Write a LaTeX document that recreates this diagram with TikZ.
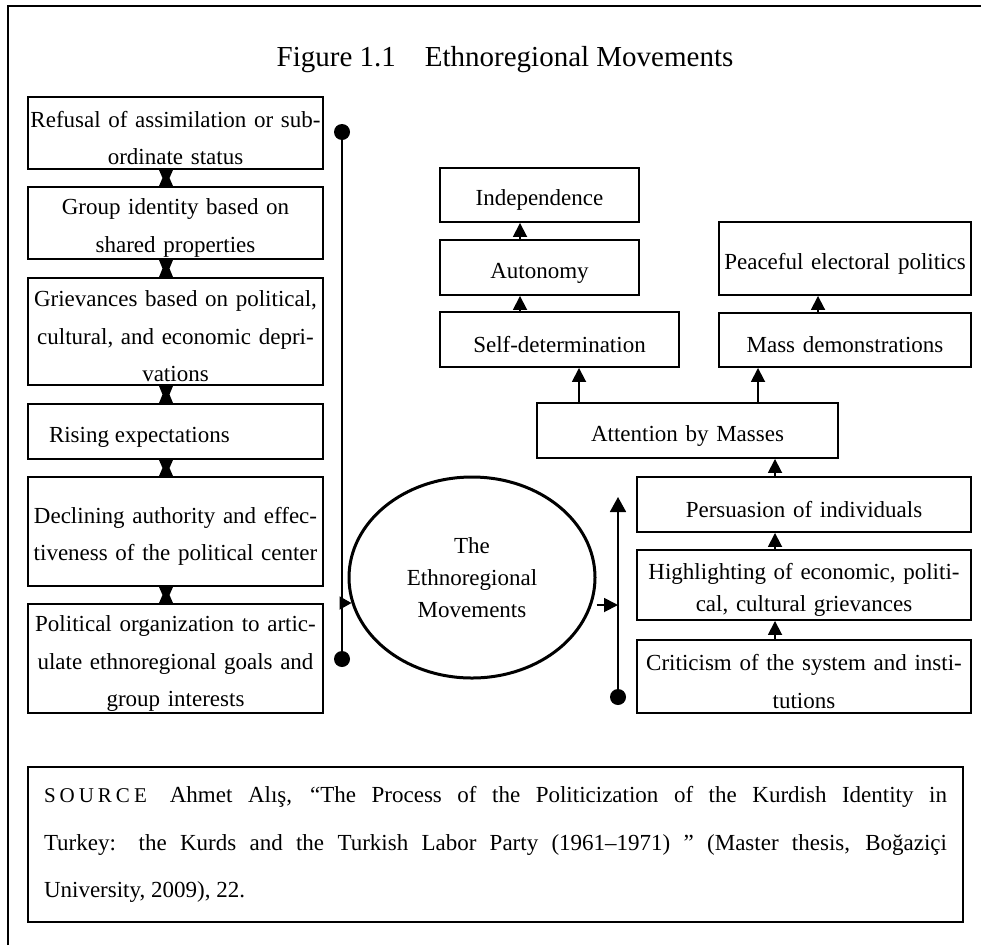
\documentclass[tikz,border=0pt]{standalone}
\usepackage{fontspec}
\setmainfont{Liberation Serif}
\usetikzlibrary{arrows.meta,calc,shapes.geometric}
\def\boxfont{\fontsize{23pt}{37.5pt}\selectfont}
\def\lift{\rule{0pt}{26pt}}
\def\hourglass(#1)(#2){\fill ([xshift=-16.5pt]#1.south) -- ([xshift=-2.5pt]#1.south) -- ($(#1.south)!0.5!(#2.north)+(-6,0)$) -- ([xshift=-2.5pt]#2.north) -- ([xshift=-16.5pt]#2.north) -- ($(#1.south)!0.5!(#2.north)+(-13,0)$) -- cycle;}
\tikzset{
	stage/.style={draw, line width=1.9pt, inner sep=0pt, minimum width=#1, text width=#1, align=center, font=\boxfont, execute at begin node=\lift},
	flow/.style={line width=1.8pt, -{Triangle[length=14pt,width=14pt]}},
	dot/.style={circle, fill=black, inner sep=0pt, minimum size=16pt},
}

\begin{document}
\begin{tikzpicture}[x=1pt, y=-1pt]
		%%%%% START %%%%%
		\useasboundingbox (0, 0) rectangle (981, 945);
		\draw[line width=1.8pt] (8, 945) -- (8, 6) -- (981, 6);
		
		\node[font=\fontsize{29pt}{29pt}\selectfont] (title) at (505, 60) {Figure 1.1\quad Ethnoregional Movements};
		
		% left column
		\node[stage=295pt, minimum height=72pt] (refusal) at (175.5, 133) {Refusal of assimilation or sub-\\ordinate status};
		\node[stage=295pt, minimum height=72pt] (identity) at (175.5, 223) {Group identity based on\\shared properties};
		\node[stage=295pt, minimum height=107pt] (grievance) at (175.5, 331.5) {Grievances based on political,\\cultural, and economic depri-\\vations};
		\node[stage=295pt, minimum height=55pt, text width=253pt, align=flush left] (rising) at (175.5, 431.5) {Rising expectations};
		\node[stage=295pt, minimum height=109pt] (decline) at (175.5, 531.5) {Declining authority and effec-\\tiveness of the political center};
		\node[stage=295pt, minimum height=109pt] (organize) at (175.5, 658.5) {Political organization to artic-\\ulate ethnoregional goals and\\group interests};
		
		\hourglass(refusal)(identity)
		\hourglass(identity)(grievance)
		\hourglass(grievance)(rising)
		\hourglass(rising)(decline)
		\hourglass(decline)(organize)
		
		\node[dot] (ltop) at (342, 132) {};
		\node[dot] (lbot) at (342, 659) {};
		\draw[line width=1.8pt] (ltop) -- (lbot);
		
		% centre
		\node[draw, ellipse, line width=3pt, inner sep=0pt, minimum width=246pt, minimum height=201pt, align=center, font=\fontsize{23pt}{32pt}\selectfont] (move) at (472, 577.5) {The\\Ethnoregional\\Movements};
		
		\coordinate (barin) at (342, 603);
		\draw[line width=1.8pt, -{Triangle[length=12pt,width=13pt]}] (barin) -- (barin -| move.192);
		
		\coordinate (barout) at (618, 605);
		\draw[flow] (move.east |- barout) -- (barout);
		
		\node[dot] (rdot) at (618, 697) {};
		\coordinate (rtop) at (618, 497);
		\draw[line width=1.8pt, -{Triangle[length=15pt,width=16pt]}] (rdot) -- (rtop);
		
		% right column
		\node[stage=199pt, minimum height=54pt] (indep) at (539.5, 195) {Independence};
		\node[stage=199pt, minimum height=55pt] (auton) at (539.5, 267.5) {Autonomy};
		\node[stage=239pt, minimum height=55pt] (selfdet) at (559.5, 339.5) {Self-determination};
		\node[stage=252pt, minimum height=73pt] (peace) at (845, 258.5) {Peaceful electoral politics};
		\node[stage=252pt, minimum height=54pt] (massdem) at (845, 340) {Mass demonstrations};
		\node[stage=301pt, minimum height=55pt] (attn) at (687.5, 430.5) {Attention by Masses};
		\node[stage=334pt, minimum height=55pt] (persu) at (804, 504.5) {Persuasion of individuals};
		\node[stage=334pt, minimum height=70pt, font=\fontsize{23pt}{32pt}\selectfont] (highl) at (804, 585) {Highlighting of economic, politi-\\cal, cultural grievances};
		\node[stage=334pt, minimum height=73pt] (critic) at (804, 676.5) {Criticism of the system and insti-\\tutions};
		
		\draw[flow] ([xshift=-19.5pt]auton.north) -- ([xshift=-19.5pt]indep.south);
		\draw[flow] ([xshift=-39.5pt]selfdet.north) -- ([xshift=-19.5pt]auton.south);
		\draw[flow] ([xshift=-27pt]massdem.north) -- ([xshift=-27pt]peace.south);
		\draw[flow] ([xshift=-108.5pt]attn.north) -- ([xshift=19.5pt]selfdet.south);
		\draw[flow] ([xshift=70.5pt]attn.north) -- ([xshift=-87pt]massdem.south);
		\draw[flow] ([xshift=-29pt]persu.north) -- ([xshift=87.5pt]attn.south);
		\draw[flow] ([xshift=-29pt]highl.north) -- ([xshift=-29pt]persu.south);
		\draw[flow] ([xshift=-29pt]critic.north) -- ([xshift=-29pt]highl.south);
		
		% source
		\node[draw, line width=1.9pt, inner sep=0pt, minimum width=935pt, minimum height=155pt, text width=903pt, align=flush left, font=\fontsize{23pt}{47.5pt}\selectfont] (source) at (495.5, 844.5) {%
			\makebox[903pt][s]{{\fontsize{21pt}{21pt}\selectfont S\kern4pt O\kern4pt U\kern4pt R\kern4pt C\kern4pt E}\quad Ahmet Alış, “The Process of the Politicization of the Kurdish Identity in}\\
			\makebox[903pt][s]{Turkey: the Kurds and the Turkish Labor Party (1961–1971) ” (Master thesis, Boğaziçi}\\
			University, 2009), 22.};
		
		%%%%% END %%%%%
\end{tikzpicture}
\end{document}
